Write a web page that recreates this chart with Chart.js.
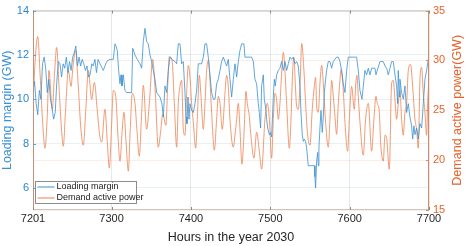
<!DOCTYPE html>
<html><head><meta charset="utf-8">
<script src="https://cdn.jsdelivr.net/npm/chart.js@4.4.0/dist/chart.umd.min.js"></script>
<style>html,body{margin:0;padding:0;background:#fff;overflow:hidden}canvas{display:block}</style>
</head><body>
<canvas id="c" width="466" height="246"></canvas>
<script>
// ---- data ----
const loadHours = [7201,7203,7205,7207,7209,7211,7213,7215,7217,7219,7221,7223,7225,7227,7229,7231,7233,7235,7237,7239,7241,7243,7245,7247,7249,7251,7253,7255,7257,7259,7261,7263,7265,7267,7269,7271,7273,7275,7277,7279,7281,7283,7285.4,7289.6,7291.7,7293.8,7298,7302.2,7304.3,7305.6,7307.2,7308.9,7310.6,7311.9,7313.1,7314.8,7316.9,7319,7325.3,7326.6,7329.5,7332.4,7335.8,7337.9,7340,7342.1,7344.2,7346.3,7348.4,7350.5,7352.6,7354.7,7356.8,7361,7363.5,7365.2,7367.3,7369.4,7371.5,7373.6,7375.7,7379.9,7382,7384.1,7386.2,7388.3,7390.4,7392.5,7393.8,7395,7396.3,7397.5,7398.8,7400.9,7403,7405.1,7407.2,7409.3,7413.5,7415.6,7417.7,7419.8,7421.9,7424,7426.1,7428.2,7430.3,7432.4,7434.5,7436.6,7438.7,7440.8,7442.9,7445,7447.1,7449.2,7451.3,7453.4,7455.5,7457.6,7459.7,7461.8,7463.9,7466.8,7468.1,7476.5,7478.6,7480.7,7482.8,7484.9,7486.2,7487.8,7489.1,7491.2,7492.5,7494.6,7495.4,7496.7,7498.8,7500.4,7501.7,7503.8,7505.1,7506.3,7508,7510.1,7512.2,7514.3,7516.4,7518.5,7520.6,7522.7,7524.8,7526.9,7529,7531.1,7533.2,7535.3,7537.4,7538.7,7540.3,7541.6,7542.9,7544.5,7545.8,7547.1,7547.9,7554.2,7555.5,7556.3,7557.1,7558.4,7559.7,7560.5,7561.3,7562.6,7563.9,7565.5,7566.8,7568.1,7569.7,7571,7573.1,7575.2,7577.3,7579.4,7581.5,7583.6,7585.7,7587.8,7589.9,7592,7594.1,7596.2,7598.3,7600.4,7604.6,7608.8,7610.9,7613,7615.5,7619.3,7621.4,7623.5,7625.6,7627.7,7629.8,7631.9,7633.2,7634.8,7638.2,7640.3,7642.4,7644.5,7646.6,7648.7,7650.8,7652.9,7655,7657.1,7659.2,7660.5,7661.3,7662.6,7663.4,7665.5,7667.6,7669.7,7671.8,7673.9,7676,7678.1,7679.4,7681,7682.3,7684.4,7686.5,7688.6,7690.7,7692.8,7694.9,7697,7699.1,7700];
const loadValues = [10.4,10.8,9.8,9.3,10.4,10.0,11.6,11.9,11.4,10.3,10.9,10.0,9.6,9.1,9.4,10.8,11.7,11.6,11.0,11.6,11.4,11.9,11.2,11.7,11.3,11.9,12.1,12.4,11.5,11.9,11.5,11.8,11.6,11.3,11.5,11.0,11.1,11.6,11.5,11.8,11.2,11.8,11.6,11.3,11.5,11.7,11.8,11.8,12.5,12.4,12.2,11.3,10.7,11.1,10.6,11.1,10.4,10.3,10.3,12.3,12.0,11.8,11.6,11.4,12.6,13.2,12.6,12.5,12.0,11.7,11.3,10.9,10.3,10.1,9.8,9.2,10.6,10.3,11.3,11.9,11.8,11.7,11.6,12.5,12.5,11.6,11.7,10.3,9.2,8.9,10.1,9.1,9.8,9.5,9.4,9.8,10.4,11.6,11.6,11.9,12.5,12.5,11.9,11.1,10.3,10.0,10.0,10.7,10.9,11.3,11.7,11.9,11.7,11.5,11.8,10.9,10.1,10.9,11.6,11.0,11.7,12.2,12.5,12.5,11.9,11.9,11.7,10.9,10.7,9.8,9.4,8.7,10.6,11.1,10.0,9.5,9.1,8.7,8.4,8.5,8.3,10.1,10.9,10.6,11.1,11.3,11.4,11.7,11.3,11.7,11.3,11.6,11.9,11.8,11.9,11.6,11.7,11.5,10.6,9.4,8.4,8.1,8.2,8.1,7.8,7.3,7.0,7.0,7.0,6.5,6.0,7.2,7.6,7.0,7.8,8.7,9.5,8.5,9.2,10.3,10.9,11.3,11.7,11.7,11.4,11.7,11.8,11.9,11.9,11.7,11.3,10.7,10.3,11.3,11.9,11.9,11.9,11.9,11.3,10.4,10.0,11.3,11.1,11.4,11.1,11.4,11.4,11.4,11.1,11.3,11.7,11.7,11.7,11.5,11.4,11.1,11.4,11.7,11.7,11.1,10.6,9.8,11.3,10.1,10.9,10.3,10.0,10.6,9.4,9.8,9.2,8.8,8.2,8.8,8.4,8.7,8.2,8.9,8.7,9.8,10.9,11.3,11.8,11.9];

const demandHours = [7201,7203,7206.9,7210,7213,7216.1,7219,7221.1,7225.3,7228,7230.8,7234,7237,7239.2,7242,7245.5,7248.9,7251.5,7254.7,7258,7261,7264.4,7267.5,7270.7,7274.9,7278.3,7282,7285,7287.5,7291.7,7294.5,7297.2,7300,7302.2,7305.6,7308,7310.6,7313,7315.6,7318.5,7321.1,7323.5,7326.1,7329.5,7332,7335,7337.5,7340,7344.2,7347.6,7351.8,7354.7,7358.9,7362,7364.5,7368.5,7370.5,7372.8,7376.2,7379.1,7382,7384.1,7386.2,7388.3,7390.4,7392.5,7394.6,7396.7,7398.8,7400.9,7403,7406,7408,7410.6,7412.7,7415.6,7417.7,7419.8,7421.9,7424,7426.1,7429.5,7432.4,7434.5,7436.6,7439.5,7442.9,7445,7447.1,7449.2,7453.4,7455.5,7457.6,7459.7,7461.8,7464.3,7466.8,7469.4,7471,7473.6,7475.2,7479.4,7482.8,7486.2,7489.1,7493.3,7496.2,7498.8,7501.7,7503.8,7505.9,7508,7510.1,7512.2,7514.3,7516.4,7518.5,7520.6,7524,7526.1,7528.2,7529.8,7531.5,7533.2,7535.3,7537.4,7539.6,7542.4,7544.5,7547.1,7550,7552.9,7555.5,7557.1,7558.4,7560.5,7562.6,7564.7,7566.8,7569.7,7573.1,7575.2,7577.3,7579.4,7581.5,7583.6,7585.7,7587.8,7589.1,7592,7594.1,7597.5,7599.6,7602.5,7605.9,7607.5,7609.2,7610.9,7613,7617.2,7620.1,7623.5,7627.7,7630.6,7633.2,7634.8,7637.4,7639,7642.4,7644.5,7646.6,7650,7652.9,7655,7657.1,7659.2,7661.3,7663.4,7665.5,7667.6,7669.7,7671.8,7673.9,7676.8,7679.4,7682.3,7684.4,7686.5,7688.6,7690.7,7692.8,7694.9,7697,7698.3,7700];
const demandValues = [25.5,29.0,32.4,28.5,24.0,21.2,24.5,29.0,25.1,28.5,31.3,27.0,23.0,21.4,25.0,29.0,27.4,29.5,31.0,27.5,23.5,21.5,25.0,29.0,26.1,27.8,25.0,22.5,21.8,25.1,22.0,19.2,23.5,27.0,26.1,22.5,19.9,22.5,24.8,21.5,18.9,23.0,26.7,25.7,23.0,20.4,24.0,27.5,23.1,25.7,30.1,27.4,21.3,23.0,24.6,23.5,27.0,30.4,30.0,25.7,21.3,25.7,27.4,28.0,23.1,22.5,26.7,29.5,28.3,25.7,23.8,21.2,24.1,28.5,26.4,23.1,25.7,29.0,30.0,28.0,24.8,21.0,24.1,26.4,25.7,23.1,26.7,28.5,27.4,24.1,21.3,22.5,24.1,25.7,23.1,19.6,22.5,26.9,25.7,24.4,22.8,20.2,22.8,20.9,19.1,24.1,25.7,24.1,20.2,24.1,26.7,26.1,24.1,25.7,28.7,30.8,29.0,25.7,21.2,24.1,29.0,30.3,27.7,25.4,25.1,27.4,31.7,29.0,25.7,22.5,21.5,25.1,27.4,28.3,25.4,24.8,27.7,29.5,27.7,23.8,21.3,24.1,28.0,26.4,24.4,22.6,25.7,28.0,29.1,27.0,23.8,20.9,24.1,27.4,25.1,27.4,28.5,26.4,23.8,20.5,24.1,25.7,20.9,24.1,26.4,25.7,24.8,21.8,19.9,22.5,22.2,19.1,27.7,28.0,26.1,24.1,25.7,27.0,24.1,22.5,24.8,25.7,29.0,29.6,27.4,24.1,23.1,21.2,28.0,29.3,26.7,24.8,22.5,25.7,28.3];

const xTickValues = [7201, 7300, 7400, 7500, 7600, 7700];
const leftTickValues = [6, 8, 10, 12, 14];
const rightTickValues = [15, 20, 25, 30, 35];
const seriesNames = ['Loading margin', 'Demand active power'];
const xTitle = 'Hours in the year 2030';
const leftTitle = 'Loading margin (GW)';
const rightTitle = 'Demand active power(GW)';

// ---- styling ----
const FONT = "'Liberation Sans', Arial, Helvetica, sans-serif";
const BLUE = '#3a90d2';
const ORANGE = '#ec8150';
const BLUE_T = '#2c86cc';
const ORANGE_T = '#e8622a';

const toPts = (xs, ys) => xs.map((x, i) => ({ x: x, y: ys[i] }));

const decor = {
  id: 'decor',
  afterDatasetsDraw(chart) {
    const { ctx, chartArea: a, scales } = chart;
    ctx.save();
    // frame
    ctx.lineWidth = 1;
    ctx.strokeStyle = '#cfc4be';
    ctx.beginPath();
    ctx.moveTo(a.left, a.top + 0.5); ctx.lineTo(a.right, a.top + 0.5);
    ctx.moveTo(a.left, a.bottom - 0.5); ctx.lineTo(a.right, a.bottom - 0.5);
    ctx.stroke();
    ctx.strokeStyle = '#c99079';
    ctx.beginPath();
    ctx.moveTo(a.left + 0.5, a.top); ctx.lineTo(a.left + 0.5, a.bottom);
    ctx.stroke();
    ctx.strokeStyle = '#d48a68';
    ctx.beginPath();
    ctx.moveTo(a.right - 0.5, a.top); ctx.lineTo(a.right - 0.5, a.bottom);
    ctx.stroke();
    // inward tick marks
    ctx.strokeStyle = '#8a8a8a';
    ctx.beginPath();
    xTickValues.forEach(v => {
      const px = Math.round(scales.x.getPixelForValue(v)) + 0.5;
      ctx.moveTo(px, a.bottom); ctx.lineTo(px, a.bottom - 3);
      ctx.moveTo(px, a.top); ctx.lineTo(px, a.top + 3);
    });
    ctx.stroke();
    ctx.strokeStyle = '#5aa0d8';
    ctx.beginPath();
    leftTickValues.forEach(v => {
      const py = Math.round(scales.y.getPixelForValue(v)) + 0.5;
      ctx.moveTo(a.left, py); ctx.lineTo(a.left + 3, py);
    });
    ctx.stroke();
    ctx.strokeStyle = '#e08860';
    ctx.beginPath();
    rightTickValues.forEach(v => {
      const py = Math.round(scales.y1.getPixelForValue(v)) + 0.5;
      ctx.moveTo(a.right, py); ctx.lineTo(a.right - 3, py);
    });
    ctx.stroke();
    // right axis title, reading bottom to top
    ctx.save();
    ctx.translate(458, (a.top + a.bottom) / 2);
    ctx.rotate(-Math.PI / 2);
    ctx.textAlign = 'center';
    ctx.textBaseline = 'middle';
    ctx.fillStyle = ORANGE_T;
    ctx.font = '12.5px ' + FONT;
    ctx.fillText(rightTitle, 0, 0);
    ctx.restore();
    // legend
    const lx = 35.5, ly = 181.5, lw = 101, lh = 22;
    ctx.fillStyle = '#ffffff';
    ctx.fillRect(lx, ly, lw, lh);
    ctx.strokeStyle = '#8c8c8c';
    ctx.lineWidth = 1;
    ctx.strokeRect(lx, ly, lw, lh);
    ctx.font = '9px ' + FONT;
    ctx.textAlign = 'left';
    ctx.textBaseline = 'middle';
    chart.data.datasets.forEach((ds, i) => {
      const cy = ly + 5.5 + i * 11;
      ctx.strokeStyle = ds.borderColor;
      ctx.lineWidth = 1;
      ctx.beginPath();
      ctx.moveTo(lx + 2, cy); ctx.lineTo(lx + 19, cy);
      ctx.stroke();
      ctx.fillStyle = '#222';
      ctx.fillText(ds.label, lx + 21, cy);
    });
    ctx.restore();
  }
};

new Chart(document.getElementById('c').getContext('2d'), {
  type: 'line',
  data: {
    datasets: [
      { label: seriesNames[0], data: toPts(loadHours, loadValues), yAxisID: 'y',
        borderColor: BLUE, borderWidth: 0.8, pointRadius: 0, tension: 0, fill: false },
      { label: seriesNames[1], data: toPts(demandHours, demandValues), yAxisID: 'y1',
        borderColor: ORANGE, borderWidth: 0.8, pointRadius: 0, cubicInterpolationMode: 'monotone', fill: false }
    ]
  },
  options: {
    responsive: false, animation: false, devicePixelRatio: 1,
    layout: { padding: { top: 5, left: 0, right: 0, bottom: 0 } },
    plugins: { legend: { display: false }, tooltip: { enabled: false } },
    scales: {
      x: {
        type: 'linear', min: 7201, max: 7700,
        afterBuildTicks: s => { s.ticks = xTickValues.map(v => ({ value: v })); },
        afterFit: s => { s.height = 36; },
        ticks: { color: '#262626', font: { family: FONT, size: 11 }, padding: 2, maxRotation: 0, autoSkip: false, callback: v => String(v) },
        grid: { color: '#e8e8e8', lineWidth: 1, drawTicks: false },
        border: { display: false },
        title: { display: true, text: xTitle, color: '#262626', font: { family: FONT, size: 12.5 }, padding: { top: 0, bottom: 1 } }
      },
      y: {
        position: 'left', min: 5, max: 14,
        afterBuildTicks: s => { s.ticks = leftTickValues.map(v => ({ value: v })); },
        afterFit: s => { s.width = 33; },
        ticks: { color: BLUE_T, font: { family: FONT, size: 11 }, padding: 4 },
        grid: { color: 'rgba(0,114,189,0.10)', drawTicks: false },
        border: { display: false },
        title: { display: true, text: leftTitle, color: '#3a92d6', font: { family: FONT, size: 12.5 }, padding: { top: 0, bottom: 0 } }
      },
      y1: {
        position: 'right', min: 15, max: 35,
        afterBuildTicks: s => { s.ticks = rightTickValues.map(v => ({ value: v })); },
        afterFit: s => { s.width = 37; },
        ticks: { color: ORANGE_T, font: { family: FONT, size: 11 }, padding: 4 },
        grid: { color: 'rgba(217,83,25,0.10)', drawTicks: false },
        border: { display: false },
        title: { display: false }
      }
    }
  },
  plugins: [decor]
});
</script>
</body></html>
